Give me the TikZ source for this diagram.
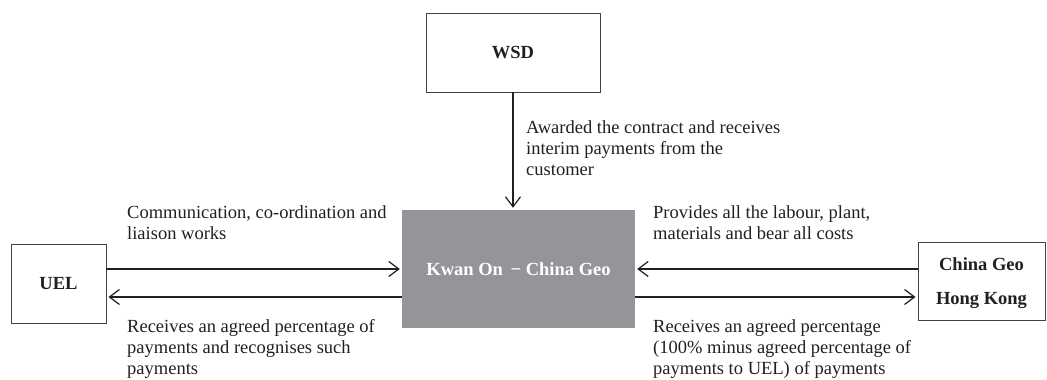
\documentclass[tikz,border=0pt]{standalone}
\usepackage{fontspec}
\setmainfont{Liberation Serif}
\usetikzlibrary{arrows.meta}
\definecolor{boxgrey}{HTML}{939598}
\definecolor{ink}{HTML}{231F20}
\begin{document}
\begin{tikzpicture}[x=1pt,y=-1pt,
  every node/.style={font=\fontsize{18.5}{21}\selectfont, text=ink},
  plainbox/.style={draw=ink!85, line width=0.9pt, rectangle, inner sep=0pt, font=\fontsize{18.5}{21}\selectfont\bfseries},
  greybox/.style={fill=boxgrey, inner sep=0pt, text=white, font=\fontsize{18.5}{21}\selectfont\bfseries},
  arr/.style={draw=ink, -{Straight Barb[length=10pt,width=15pt]}, line width=1.2pt, shorten >=2pt},
  lbl/.style={anchor=north west, inner sep=0pt, align=left}
]
\useasboundingbox (0,0) rectangle (1047,380);
\node[plainbox, minimum width=174pt, minimum height=79pt] (wsd) at (513,52.5) {WSD};
\node[greybox, minimum width=233pt, minimum height=118pt] (kc) at (518.5,269) {Kwan On \,− China Geo};
\node[plainbox, minimum width=95pt, minimum height=79pt] (uel) at (58.5,283.5) {UEL};
\node[plainbox, minimum width=127pt, minimum height=78pt, align=center, text depth=0pt] (cghk) at (981.5,281) {China Geo\\[13pt]Hong Kong};

\draw[arr] (wsd.south) -- (wsd.south |- kc.north);
\draw[arr] (uel.east |- kc.west) -- (kc.west);
\coordinate (kcwl) at ([yshift=-28pt]kc.west);
\draw[arr] (kcwl) -- (uel.east |- kcwl);
\draw[arr] (cghk.west |- kc.east) -- (kc.east);
\coordinate (kcel) at ([yshift=-28pt]kc.east);
\draw[arr] (kcel) -- (cghk.west |- kcel);

\node[lbl] (t1) at (526,120) {Awarded the contract and receives\\interim payments from the\\customer};
\node[lbl] (t2) at (127,205) {Communication, co-ordination and\\liaison works};
\node[lbl] (t3) at (127,319) {Receives an agreed percentage of\\payments and recognises such\\payments};
\node[lbl] (t4) at (653,205) {Provides all the labour, plant,\\materials and bear all costs};
\node[lbl] (t5) at (653,319) {Receives an agreed percentage\\(100\% minus agreed percentage of\\payments to UEL) of payments};
\end{tikzpicture}
\end{document}
